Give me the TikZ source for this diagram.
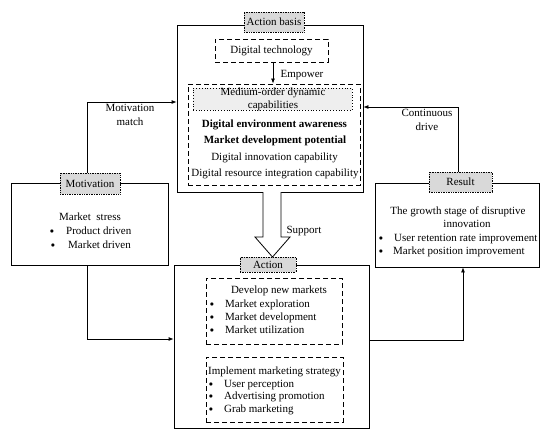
\documentclass[tikz,border=0pt]{standalone}
\usepackage{fontspec}
\setmainfont{Liberation Serif}
\usetikzlibrary{arrows.meta}
\begin{document}
\begin{tikzpicture}[x=1pt,y=-1pt,
  font=\fontsize{11}{13}\selectfont,
  box/.style={draw, line width=0.8pt, inner sep=0pt},
  dbox/.style={draw, line width=0.9pt, dash pattern=on 5pt off 3pt, inner sep=0pt},
  lbl/.style={draw, densely dotted, line width=0.7pt, fill=gray!30, inner sep=0pt},
  mbox/.style={draw, dash pattern=on 0.8pt off 2pt, line width=0.8pt, fill=gray!13, inner sep=0pt},
  txt/.style={inner sep=0pt, text height=7.5pt, text depth=2pt},
  ltxt/.style={txt, anchor=west},
  bul/.style={inner sep=0pt, font=\fontsize{8}{8}\selectfont},
  arr/.style={-{Latex[length=5pt,width=4pt]}, line width=0.8pt}]
\useasboundingbox (0,0) rectangle (550,437);
% ---------- boxes ----------
\node[box, minimum width=186pt, minimum height=167pt] (top) at (270,108.5) {};
\node[dbox, minimum width=113pt, minimum height=23pt] (dt) at (271.5,50.5) {};
\node[dbox, minimum width=172pt, minimum height=101pt] (bd) at (274,134.5) {};
\node[mbox, minimum width=159pt, minimum height=22pt] (mo) at (272.5,99) {};
\node[box, minimum width=195pt, minimum height=163pt] (act) at (271.5,346.5) {};
\node[dbox, minimum width=136pt, minimum height=66pt] (dev) at (274,311) {};
\node[dbox, minimum width=137pt, minimum height=65pt] (imp) at (274.5,389.5) {};
\node[box, minimum width=157pt, minimum height=82pt] (mot) at (89.5,224) {};
\node[box, minimum width=164pt, minimum height=84pt] (res) at (457,225) {};
% ---------- labels on boxes ----------
\node[lbl, minimum width=60pt, minimum height=20pt] (tlab) at (274,22) {Action basis};
\node[lbl, minimum width=56pt, minimum height=15pt] (alab) at (268,264.5) {Action};
\node[lbl, minimum width=60pt, minimum height=21pt] (mlab) at (90,183.5) {Motivation};
\node[lbl, minimum width=63pt, minimum height=20pt] (rlab) at (460.5,182) {Result};
% ---------- texts: action basis ----------
\node[txt] (dtt) at (dt) {Digital technology};
\node[txt] (mo1) at (273,93) {Medium-order dynamic};
\node[txt] (mo2) at (273,106) {capabilities};
\node[txt, font=\fontsize{11}{13}\selectfont\bfseries] (b1) at (274.5,125) {Digital environment awareness};
\node[txt, font=\fontsize{11}{13}\selectfont\bfseries] (b2) at (275,141) {Market development potential};
\node[txt] (b3) at (274.5,158) {Digital innovation capability};
\node[txt] (b4) at (275,174) {Digital resource integration capability};
% ---------- texts: action ----------
\node[txt] (d0) at (279,291) {Develop new markets};
\node[bul] (db1) at (212,305) {$\bullet$};
\node[bul] (db2) at (212,318) {$\bullet$};
\node[bul] (db3) at (212,331) {$\bullet$};
\node[ltxt] (d1) at (225,305) {Market exploration};
\node[ltxt] (d2) at (225,318) {Market development};
\node[ltxt] (d3) at (225,331) {Market utilization};
\node[txt] (i0) at (274.5,372) {Implement marketing strategy};
\node[bul] (ib1) at (211,385) {$\bullet$};
\node[bul] (ib2) at (211,397) {$\bullet$};
\node[bul] (ib3) at (211,410) {$\bullet$};
\node[ltxt] (i1) at (224,385) {User perception};
\node[ltxt] (i2) at (224,397) {Advertising promotion};
\node[ltxt] (i3) at (224,410) {Grab marketing};
% ---------- texts: motivation ----------
\node[txt] (m0) at (90,218) {Market\ \ stress};
\node[bul] (mb1) at (52,232) {$\bullet$};
\node[bul] (mb2) at (53,246) {$\bullet$};
\node[ltxt] (m1) at (66,232) {Product driven};
\node[ltxt] (m2) at (68,246) {Market driven};
% ---------- texts: result ----------
\node[txt] (r0) at (458,212) {The growth stage of disruptive};
\node[txt] (r1) at (467,225) {innovation};
\node[bul] (rb1) at (381,239) {$\bullet$};
\node[bul] (rb2) at (381,252) {$\bullet$};
\node[ltxt] (r2) at (394,239) {User retention rate improvement};
\node[ltxt] (r3) at (393,252) {Market position improvement};
% ---------- connectors ----------
\draw[arr] (dt.south -| 273,0) -- (bd.north -| 273,0);
\node[txt] (emp) at (302,75) {Empower};
\draw[arr] ([xshift=-3pt]mlab.north) |- ([yshift=6.5pt]top.west);
\node[txt] (mm1) at (130,109) {Motivation};
\node[txt] (mm2) at (130,123) {match};
\draw[arr] ([xshift=-2.5pt]mlab.north |- mot.south) |- ([yshift=7.5pt]act.west);
\draw[arr] ([xshift=-2.5pt]rlab.north) |- ([yshift=1.5pt]top.east);
\node[txt] (cd1) at (427,114) {Continuous};
\node[txt] (cd2) at (427,128) {drive};
\draw[arr] ([yshift=6.5pt]act.east) -| ([xshift=6pt]res.south);
% support hollow arrow
\draw[line width=0.8pt, fill=white, line join=miter]
  (263,192) -- (263,237) -- (255,237) -- (272.5,257) -- (290,237) -- (281,237) -- (281,192);
\node[txt] (sup) at (304,231) {Support};
\end{tikzpicture}
\end{document}
